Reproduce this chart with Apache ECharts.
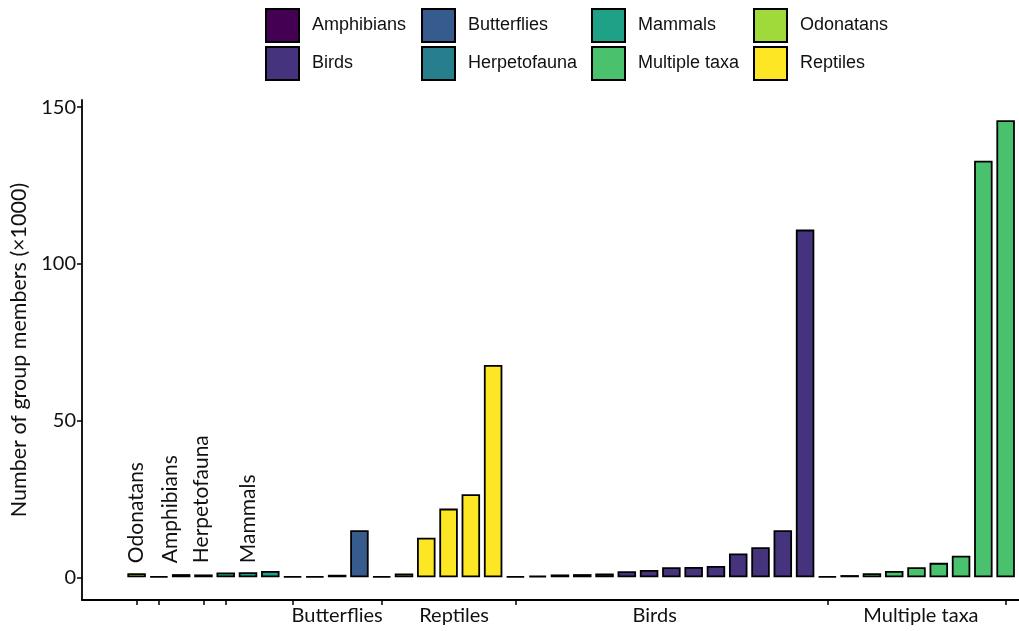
<!DOCTYPE html>
<html>
<head>
<meta charset="utf-8">
<script src="https://cdn.jsdelivr.net/npm/echarts@6/dist/echarts.min.js"></script>
<style>
html,body{margin:0;padding:0;background:#fff;}
#chart{width:1019px;height:631px;}
</style>
</head>
<body>
<div id="chart"></div>
<script>
// Legend groups and their colours
const groups = ['Amphibians','Birds','Butterflies','Herpetofauna','Mammals','Multiple taxa','Odonatans','Reptiles'];
const groupColors = ['#440154','#46337E','#365C8D','#277F8E','#1FA187','#4AC16D','#9FDA3A','#FDE725'];

// One entry per bar, left to right (values in thousands)
const barGroup = [
  'Odonatans','Amphibians','Amphibians','Herpetofauna','Mammals','Mammals','Mammals',
  'Butterflies','Butterflies','Butterflies','Butterflies',
  'Reptiles','Reptiles','Reptiles','Reptiles','Reptiles','Reptiles',
  'Birds','Birds','Birds','Birds','Birds','Birds','Birds','Birds','Birds','Birds','Birds','Birds','Birds','Birds',
  'Multiple taxa','Multiple taxa','Multiple taxa','Multiple taxa','Multiple taxa','Multiple taxa','Multiple taxa','Multiple taxa','Multiple taxa'
];
const barValue = [
  1.3, 0.3, 1.0, 0.9, 1.5, 1.6, 2.0,
  0.3, 0.3, 0.8, 15.0,
  0.3, 1.2, 12.6, 21.9, 26.5, 67.7,
  0.3, 0.5, 0.9, 1.0, 1.2, 1.9, 2.3, 3.2, 3.3, 3.6, 7.6, 9.6, 15.0, 110.9,
  0.3, 0.7, 1.3, 2.0, 3.2, 4.6, 6.9, 132.9, 145.8
];

// Axis ticks / labels
const xTickPositions = [1, 2, 4, 5, 8, 12, 18, 32, 40];
const xGroupLabels = ['Butterflies', 'Reptiles', 'Birds', 'Multiple taxa'];
const xGroupLabelPos = [10, 15.25, 24.25, 36.2];
const innerLabels = ['Odonatans', 'Amphibians', 'Herpetofauna', 'Mammals'];
const innerLabelPos = [1, 2.5, 3.9, 6];
const innerLabelY = 4.5;
const yTicks = [0, 50, 100, 150];
const yTitle = 'Number of group members (×1000)';

const chart = echarts.init(document.getElementById('chart'), null, {renderer: 'canvas'});

const series = groups.map((g, gi) => ({
  name: g,
  type: 'bar',
  barWidth: 18.5,
  barGap: '-100%',
  itemStyle: {color: groupColors[gi], borderColor: '#000', borderWidth: 1.8},
  data: barValue.map((v, i) => barGroup[i] === g ? [i + 1, v] : null).filter(d => d)
}));

series.push({
  type: 'scatter',
  silent: true,
  symbolSize: 0,
  itemStyle: {opacity: 1},
  data: innerLabelPos.map(p => [p, innerLabelY]),
  label: {
    show: true,
    position: 'inside',
    rotate: 90,
    align: 'left',
    verticalAlign: 'middle',
    fontFamily: 'Lato',
    fontSize: 21,
    color: '#111',
    opacity: 1,
    formatter: p => innerLabels[p.dataIndex]
  }
});

const legendCols = [[0,1],[2,3],[4,5],[6,7]];
const legendLeft = [265, 421, 591, 753];
const legends = legendCols.map((c, k) => ({
  orient: 'vertical',
  left: legendLeft[k],
  top: 8,
  padding: 0,
  itemWidth: 33,
  itemHeight: 33,
  itemGap: 3,
  icon: 'rect',
  selectedMode: false,
  itemStyle: {borderColor: '#000', borderWidth: 2},
  textStyle: {fontFamily: 'Liberation Sans', fontSize: 18, color: '#111', padding: [0, 0, 0, 8]},
  data: c.map(i => groups[i])
}));

const option = {
  animation: false,
  backgroundColor: '#fff',
  legend: legends,
  grid: {left: 82, right: 0, top: 100, bottom: 31, containLabel: false},
  xAxis: {
    type: 'value',
    min: -1.45,
    max: 40.6,
    splitLine: {show: false},
    axisLine: {show: true, onZero: false, lineStyle: {color: '#000', width: 1.8}},
    axisTick: {show: true, length: 5, lineStyle: {color: '#000', width: 1.5}, customValues: xTickPositions},
    axisLabel: {
      customValues: xGroupLabelPos,
      margin: 6,
      fontFamily: 'Lato',
      fontSize: 20,
      color: '#111',
      formatter: v => {
        const k = xGroupLabelPos.indexOf(v);
        return k >= 0 ? xGroupLabels[k] : '';
      }
    }
  },
  yAxis: {
    type: 'value',
    min: -7.25,
    max: 152.25,
    splitLine: {show: false},
    axisLine: {show: true, onZero: false, lineStyle: {color: '#000', width: 1.8}},
    axisTick: {show: true, length: 5, lineStyle: {color: '#000', width: 1.5}, customValues: yTicks},
    axisLabel: {customValues: yTicks, margin: 6, fontFamily: 'Lato', fontSize: 20, color: '#111'},
    name: yTitle,
    nameLocation: 'middle',
    nameGap: 52,
    nameTextStyle: {fontFamily: 'Lato', fontSize: 21.5, color: '#111'}
  },
  series: series
};
chart.setOption(option);
</script>
</body>
</html>
